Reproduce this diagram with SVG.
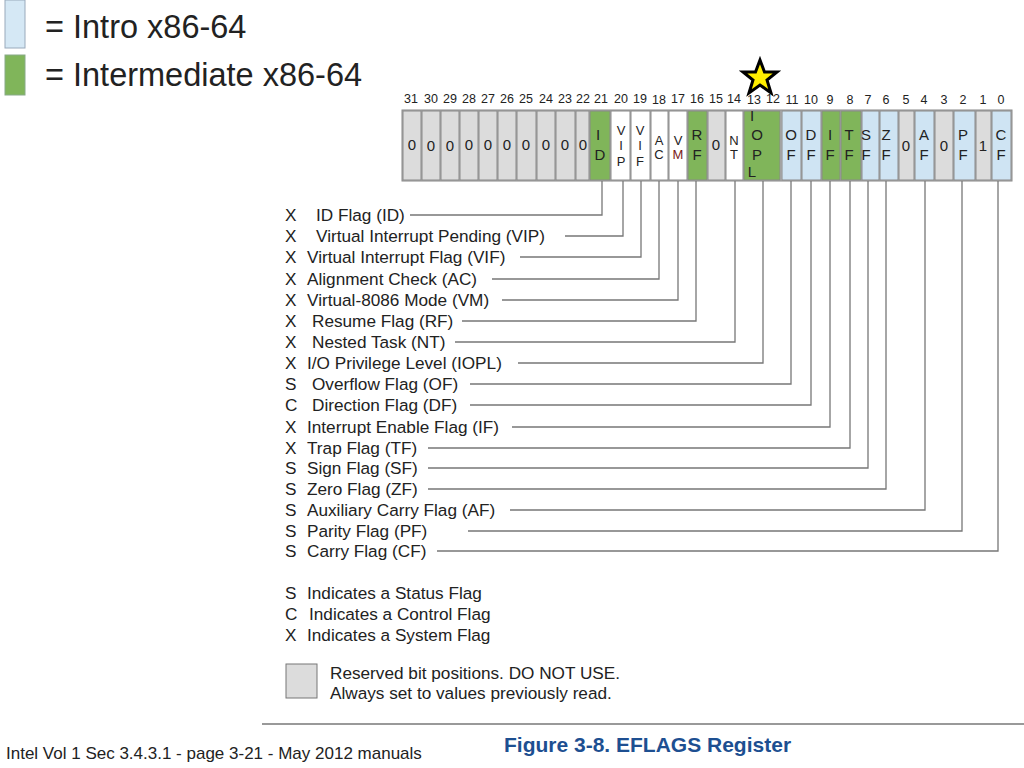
<svg xmlns="http://www.w3.org/2000/svg" width="1024" height="768" viewBox="0 0 1024 768">
<style>
text{font-family:"Liberation Sans",Arial,sans-serif;fill:#222}
.g{fill:#dcdcdc;stroke:#8a8a8a;stroke-width:1}
.gr{fill:#80b55a;stroke:#8a8a8a;stroke-width:1}
.b{fill:#cfe4f3;stroke:#8a8a8a;stroke-width:1}
.w{fill:#fff;stroke:#8a8a8a;stroke-width:1}
.c{font-size:15px;text-anchor:middle}
.s{font-size:13px}
.n{font-size:12.5px;text-anchor:middle}
.l{font-size:17.2px}
.ld{fill:none;stroke:#777;stroke-width:1.3}
</style>
<rect x="5" y="0" width="20" height="48" fill="#d5e8f5" stroke="#9ab"/>
<rect x="5" y="55" width="20" height="40" fill="#80b55a" stroke="#8a8"/>
<text x="45" y="38" font-size="32.5">= Intro x86-64</text>
<text x="45" y="86" font-size="32.5">= Intermediate x86-64</text>
<polygon points="760,60 764.5,72 777,72 767,80 771,93 760,85 749,93 753,80 743,72 755.5,72" fill="#ffee00" stroke="#000" stroke-width="3"/>
<rect x="402" y="110" width="610" height="71" fill="#bbb" stroke="#888"/>
<g id="register">
<rect class="g" x="403" y="111" width="18" height="69"/><rect class="g" x="422" y="111" width="18" height="69"/><rect class="g" x="441" y="111" width="18" height="69"/><rect class="g" x="460" y="111" width="18" height="69"/><rect class="g" x="479" y="111" width="18" height="69"/><rect class="g" x="498" y="111" width="18" height="69"/><rect class="g" x="517" y="111" width="19" height="69"/><rect class="g" x="537" y="111" width="18" height="69"/><rect class="g" x="556" y="111" width="19" height="69"/><rect class="g" x="576" y="111" width="13" height="69"/>
<rect class="gr" x="590" y="111" width="20" height="69"/>
<rect class="w" x="611" y="111" width="19" height="69"/><rect class="w" x="631" y="111" width="19" height="69"/><rect class="w" x="651" y="111" width="17" height="69"/><rect class="w" x="669" y="111" width="18" height="69"/>
<rect class="gr" x="688" y="111" width="19" height="69"/>
<rect class="g" x="708" y="111" width="17" height="69"/>
<rect class="w" x="726" y="111" width="17" height="69"/>
<rect class="gr" x="744" y="111" width="36" height="69"/>
<rect class="b" x="782" y="111" width="19" height="69"/><rect class="b" x="802" y="111" width="19" height="69"/>
<rect class="gr" x="822" y="111" width="18" height="69"/><rect class="gr" x="841" y="111" width="20" height="69"/>
<rect class="b" x="862" y="111" width="17" height="69"/><rect class="b" x="880" y="111" width="18" height="69"/>
<rect class="g" x="899" y="111" width="15" height="69"/>
<rect class="b" x="915" y="111" width="19" height="69"/>
<rect class="g" x="935" y="111" width="18" height="69"/>
<rect class="b" x="954" y="111" width="21" height="69"/>
<rect class="g" x="976" y="111" width="15" height="69"/>
<rect class="b" x="992" y="111" width="19" height="69"/>
<g class="c">
<text x="412" y="150">0</text><text x="431" y="151">0</text><text x="450" y="151">0</text><text x="469" y="150">0</text><text x="488" y="150">0</text><text x="507" y="150">0</text><text x="526" y="150">0</text><text x="546" y="150">0</text><text x="565" y="150">0</text><text x="583" y="150">0</text>
<text x="598" y="140">I</text><text x="600" y="160">D</text>
<text class="s" x="621" y="135">V</text><text class="s" x="621" y="150">I</text><text class="s" x="621" y="166">P</text>
<text class="s" x="640" y="135">V</text><text class="s" x="640" y="150">I</text><text class="s" x="640" y="166">F</text>
<text class="s" x="659" y="145">A</text><text class="s" x="659" y="159">C</text>
<text class="s" x="678" y="145">V</text><text class="s" x="678" y="159" style="fill:#7a1a1a">M</text>
<text x="697" y="140">R</text><text x="697" y="160">F</text>
<text x="716" y="150">0</text>
<text class="s" x="734" y="145">N</text><text class="s" x="734" y="159">T</text>
<text x="752" y="121">I</text><text x="757" y="140">O</text><text x="757" y="160">P</text><text x="752" y="177">L</text>
<text x="791" y="140">O</text><text x="791" y="160">F</text>
<text x="811" y="140">D</text><text x="811" y="160">F</text>
<text x="830" y="140">I</text><text x="830" y="160">F</text>
<text x="849" y="140">T</text><text x="849" y="160">F</text>
<text x="866" y="140">S</text><text x="866" y="160">F</text>
<text x="886" y="140">Z</text><text x="886" y="160">F</text>
<text x="906" y="151">0</text>
<text x="924" y="140">A</text><text x="924" y="160">F</text>
<text x="944" y="151">0</text>
<text x="963" y="140">P</text><text x="963" y="160">F</text>
<text x="983" y="151">1</text>
<text x="1001" y="140">C</text><text x="1001" y="160">F</text>
</g>
<g class="n">
<text x="411" y="103">31</text><text x="431" y="103">30</text><text x="450" y="103">29</text><text x="469" y="103">28</text><text x="488" y="103">27</text><text x="507" y="103">26</text><text x="526" y="103">25</text><text x="546" y="103">24</text><text x="565" y="103">23</text><text x="583" y="103">22</text><text x="601" y="103">21</text><text x="621" y="103">20</text><text x="640" y="103">19</text><text x="659" y="104">18</text><text x="678" y="103">17</text><text x="697" y="103">16</text><text x="716" y="103">15</text><text x="734" y="103">14</text><text x="754" y="104">13</text><text x="773" y="103">12</text><text x="792" y="104">11</text><text x="811" y="104">10</text><text x="830" y="104">9</text><text x="850" y="104">8</text><text x="868" y="104">7</text><text x="886" y="104">6</text><text x="906" y="104">5</text><text x="924" y="104">4</text><text x="944" y="104">3</text><text x="963" y="104">2</text><text x="983" y="104">1</text><text x="1001" y="104">0</text>
</g>
</g>
<g id="connectors" class="ld">
<polyline points="602,181 602,215 410,215"/>
<polyline points="623,181 623,236 565,236"/>
<polyline points="641,181 641,257 520,257"/>
<polyline points="659,181 659,279 492,279"/>
<polyline points="678,181 678,300 502,300"/>
<polyline points="696,181 696,321 462,321"/>
<polyline points="735,181 735,342 455,342"/>
<polyline points="763,181 763,363 518,363"/>
<polyline points="791,181 791,384 470,384"/>
<polyline points="811,181 811,405 470,405"/>
<polyline points="830,181 830,427 512,427"/>
<polyline points="850,181 850,448 428,448"/>
<polyline points="868,181 868,468 428,468"/>
<polyline points="886,181 886,489 428,489"/>
<polyline points="925,181 925,510 510,510"/>
<polyline points="962,181 962,531 468,531"/>
<polyline points="998,181 998,551 437,551"/>
</g>
<g id="labels" class="l">
<text x="285" y="221">X</text><text x="316" y="221">ID Flag (ID)</text>
<text x="285" y="242">X</text><text x="316" y="242">Virtual Interrupt Pending (VIP)</text>
<text x="285" y="263">X</text><text x="307" y="263">Virtual Interrupt Flag (VIF)</text>
<text x="285" y="285">X</text><text x="307" y="285">Alignment Check (AC)</text>
<text x="285" y="306">X</text><text x="307" y="306">Virtual-8086 Mode (VM)</text>
<text x="285" y="327">X</text><text x="312" y="327">Resume Flag (RF)</text>
<text x="285" y="348">X</text><text x="312" y="348">Nested Task (NT)</text>
<text x="285" y="369">X</text><text x="307" y="369">I/O Privilege Level (IOPL)</text>
<text x="285" y="390">S</text><text x="312" y="390">Overflow Flag (OF)</text>
<text x="285" y="411">C</text><text x="312" y="411">Direction Flag (DF)</text>
<text x="285" y="433">X</text><text x="307" y="433">Interrupt Enable Flag (IF)</text>
<text x="285" y="454">X</text><text x="307" y="454">Trap Flag (TF)</text>
<text x="285" y="474">S</text><text x="307" y="474">Sign Flag (SF)</text>
<text x="285" y="495">S</text><text x="307" y="495">Zero Flag (ZF)</text>
<text x="285" y="516">S</text><text x="307" y="516">Auxiliary Carry Flag (AF)</text>
<text x="285" y="537">S</text><text x="307" y="537">Parity Flag (PF)</text>
<text x="285" y="557">S</text><text x="307" y="557">Carry Flag (CF)</text>
<text x="285" y="599">S</text><text x="307" y="599">Indicates a Status Flag</text>
<text x="285" y="620">C</text><text x="309" y="620">Indicates a Control Flag</text>
<text x="285" y="641">X</text><text x="307" y="641">Indicates a System Flag</text>
<text x="330" y="679">Reserved bit positions. DO NOT USE.</text>
<text x="330" y="699">Always set to values previously read.</text>
</g>
<rect x="286" y="664" width="31" height="34" fill="#dcdcdc" stroke="#777"/>
<line x1="262" y1="724" x2="1024" y2="724" stroke="#999" stroke-width="2"/>
<text x="504" y="752" font-size="21" font-weight="bold" style="fill:#1d4f91">Figure 3-8.  EFLAGS Register</text>
<text x="6" y="759" font-size="17">Intel Vol 1 Sec 3.4.3.1 - page 3-21 - May 2012 manuals</text>
</svg>
